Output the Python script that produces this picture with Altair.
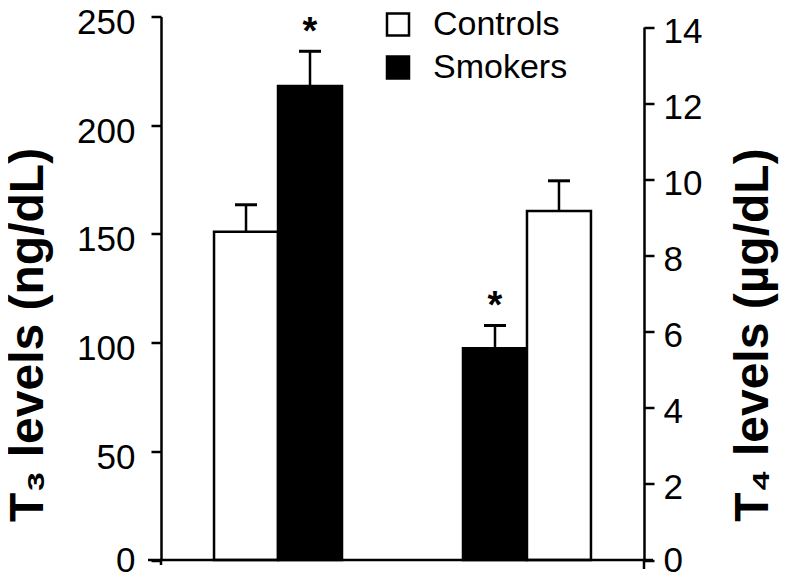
import altair as alt
import pandas as pd

# Data
groups = ["T3", "T3", "T4", "T4"]
series = ["Controls", "Smokers", "Smokers", "Controls"]
slot = [0, 1, 0, 1]
values = [151.0, 218.0, 5.56, 9.17]
errors = [12.4, 16.0, 0.60, 0.79]
stars = ["", "*", "*", ""]

t3_ticks = [0, 50, 100, 150, 200, 250]
t4_ticks = [0, 2, 4, 6, 8, 10, 12, 14]

df = pd.DataFrame({"group": groups, "series": series, "slot": slot,
                   "value": values, "err": errors, "star": stars})
df["top"] = df["value"] + df["err"]
df3 = df[df["group"] == "T3"]
df4 = df[df["group"] == "T4"]

FONT = "Liberation Sans"
W, H = 483, 543.5

xenc = alt.X("group:N", sort=["T3", "T4"],
             scale=alt.Scale(paddingInner=0.486, paddingOuter=0.213),
             axis=None)
xoff = alt.XOffset("slot:O", scale=alt.Scale(paddingInner=0, paddingOuter=0))

fill_scale = alt.Scale(domain=["Controls", "Smokers"], range=["white", "black"])


def group_layer(data, scale, axis, legend):
    base = alt.Chart(data).encode(x=xenc, xOffset=xoff)
    bars = base.mark_bar(stroke="black", strokeWidth=2.5, opacity=1).encode(
        y=alt.Y("value:Q", scale=scale, axis=axis),
        fill=alt.Fill("series:N", scale=fill_scale, legend=legend),
    )
    err = base.mark_rule(color="black", strokeWidth=2.5).encode(
        y=alt.Y("value:Q", scale=scale, axis=axis), y2="top:Q")
    cap = base.mark_tick(color="black", thickness=3, size=22, opacity=1).encode(
        y=alt.Y("top:Q", scale=scale, axis=axis))
    star = base.mark_text(font=FONT, fontSize=38, fontWeight="bold",
                          color="black", baseline="alphabetic", dy=-7).encode(
        y=alt.Y("top:Q", scale=scale, axis=axis), text="star:N")
    return alt.layer(bars, err, cap, star)


axis3 = alt.Axis(values=t3_ticks, title="T₃ levels (ng/dL)", orient="left",
                 grid=False, domainColor="black", domainWidth=2.5,
                 tickColor="black", tickWidth=2.5, tickSize=10,
                 labelFont=FONT, labelFontSize=35, labelColor="black",
                 labelPadding=16,
                 labelOffset={"condition": {"test": "datum.value === 0", "value": 0},
                              "value": 6},
                 titleFont=FONT, titleFontSize=48,
                 titleFontWeight="bold", titleColor="black", titlePadding=24,
                 titleY=318)
axis4 = alt.Axis(values=t4_ticks, title="T₄ levels (µg/dL)", orient="right",
                 grid=False, domainColor="black", domainWidth=2.5,
                 tickColor="black", tickWidth=2.5, tickSize=10,
                 labelFont=FONT, labelFontSize=35, labelColor="black",
                 labelPadding=9,
                 labelOffset={"condition": {"test": "datum.value === 0", "value": 0},
                              "value": 4},
                 titleFont=FONT, titleFontSize=48,
                 titleFontWeight="bold", titleColor="black", titlePadding=76,
                 titleAngle=270, titleY=318)

scale3 = alt.Scale(domain=[0, 250], nice=False, zero=True)
scale4 = alt.Scale(domain=[0, 14], nice=False, zero=True, range=[H, 10.5])

legend = alt.Legend(title=None, orient="none", legendX=220, legendY=-9,
                    symbolType="square", symbolSize=484,
                    symbolStrokeColor="black", symbolStrokeWidth=2.5,
                    labelFont=FONT, labelFontSize=34, labelColor="black",
                    labelOffset=18, rowPadding=9, padding=0)

left = group_layer(df3, scale3, axis3, legend)
right = group_layer(df4, scale4, axis4, None)

baseline = alt.Chart(pd.DataFrame({"a": [0]})).mark_rule(
    color="black", strokeWidth=2.5).encode(
    x=alt.value(-13), x2=alt.value(W + 9), y=alt.value(H))
lstub = alt.Chart(pd.DataFrame({"a": [0]})).mark_rule(
    color="black", strokeWidth=2.5).encode(
    x=alt.value(0), y=alt.value(H - 1), y2=alt.value(H + 5))
rstub = alt.Chart(pd.DataFrame({"a": [0]})).mark_rule(
    color="black", strokeWidth=2.5).encode(
    x=alt.value(W), y=alt.value(H - 1), y2=alt.value(H + 9))

chart = alt.layer(left, right, baseline, lstub, rstub).resolve_scale(
    y="independent"
).properties(
    width=W, height=H,
    autosize=alt.AutoSizeParams(type="none"),
    padding={"left": 153, "top": 8.5, "right": 138, "bottom": 14},
).configure_view(stroke=None)

chart.save("out.html", embed_options={"renderer": "svg", "actions": False})
